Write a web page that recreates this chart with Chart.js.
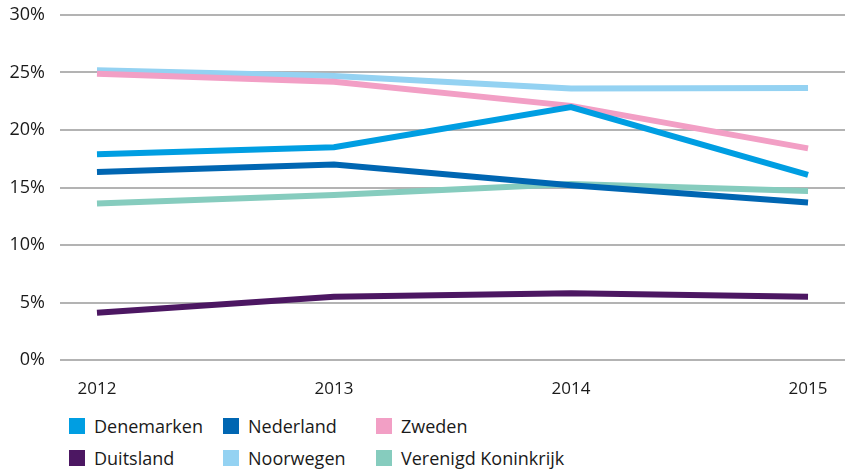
<!DOCTYPE html>
<html>
<head>
<meta charset="utf-8">
<script src="https://cdn.jsdelivr.net/npm/chart.js@4/dist/chart.umd.min.js"></script>
<style>
  html, body { margin: 0; padding: 0; background: #fff; }
  #wrap { position: relative; width: 845px; height: 472px; font-family: "Open Sans", sans-serif; }
  #chartBox { position: absolute; left: 0; top: 0; width: 845px; height: 400px; }
  #legend { position: absolute; left: 69px; top: 414px; display: grid; grid-template-columns: 154px 153px 300px; row-gap: 8px; }
  .item { display: flex; align-items: center; font-size: 18px; color: #1a1a1a; height: 24px; }
  .sw { width: 16px; height: 16px; margin-right: 9px; flex: none; }
</style>
</head>
<body>
<div id="wrap">
  <div id="chartBox"><canvas id="lijnChart"></canvas></div>
  <div id="legend"></div>
</div>
<script>
const jaren = [2012, 2013, 2014, 2015];

const denemarken = [17.9, 18.5, 22.0, 16.1];
const nederland = [16.35, 17.0, 15.2, 13.7];
const zweden = [24.9, 24.2, 22.1, 18.4];
const duitsland = [4.1, 5.5, 5.8, 5.5];
const noorwegen = [25.2, 24.7, 23.6, 23.65];
const verenigdKoninkrijk = [13.6, 14.35, 15.3, 14.7];

const yTicks = [0, 5, 10, 15, 20, 25, 30];

// legend order (row by row)
const reeksen = [
  { label: "Denemarken", data: denemarken, kleur: "#009ee2" },
  { label: "Nederland", data: nederland, kleur: "#0066b2" },
  { label: "Zweden", data: zweden, kleur: "#f29fc5" },
  { label: "Duitsland", data: duitsland, kleur: "#4c1762" },
  { label: "Noorwegen", data: noorwegen, kleur: "#94d2f2" },
  { label: "Verenigd Koninkrijk", data: verenigdKoninkrijk, kleur: "#86ccbe" }
];

const legend = document.getElementById("legend");
reeksen.forEach(r => {
  const item = document.createElement("div");
  item.className = "item";
  item.innerHTML = '<span class="sw" style="background:' + r.kleur + '"></span>' + r.label;
  legend.appendChild(item);
});

const ctx = document.getElementById("lijnChart");

new Chart(ctx, {
  type: "line",

  data: {
    datasets: reeksen.map(r => ({
      label: r.label,
      data: jaren.map((j, i) => ({ x: j, y: r.data[i] })),
      borderColor: r.kleur,
      backgroundColor: r.kleur,
      borderWidth: 6,
      pointRadius: 0,
      tension: 0,
      fill: false
    }))
  },

  options: {
    responsive: true,
    maintainAspectRatio: false,
    animation: false,

    layout: {
      padding: { top: 15, right: 0, left: 0, bottom: 0 }
    },

    plugins: {
      legend: { display: false },
      tooltip: { enabled: false }
    },

    scales: {
      x: {
        type: "linear",
        min: 2011.844,
        max: 2015.156,
        afterBuildTicks: s => { s.ticks = jaren.map(v => ({ value: v })); },
        afterFit: s => { s.height = 40; s.paddingLeft = 0; s.paddingRight = 0; },
        ticks: {
          padding: 11,
          maxRotation: 0,
          color: "#1a1a1a",
          font: { family: "Open Sans", size: 17 },
          callback: v => String(v)
        },
        grid: { display: false },
        border: { display: false }
      },

      y: {
        min: 0,
        max: 30,
        afterBuildTicks: s => { s.ticks = yTicks.map(v => ({ value: v })); },
        afterFit: s => { s.width = 60; s.paddingTop = 0; s.paddingBottom = 0; },
        ticks: {
          padding: 15,
          color: "#1a1a1a",
          font: { family: "Open Sans", size: 18 },
          callback: v => v + "%"
        },
        grid: {
          color: "#b3b3b3",
          lineWidth: 2,
          drawTicks: false
        },
        border: { display: false }
      }
    }
  }
});
</script>
</body>
</html>
